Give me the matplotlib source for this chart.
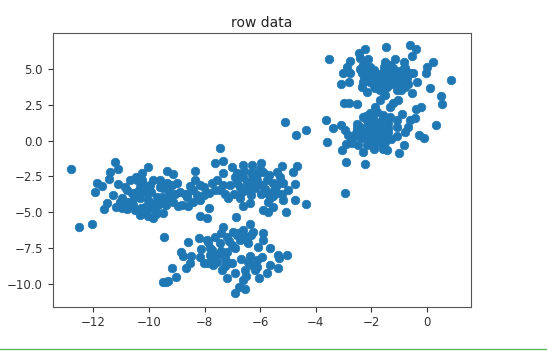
import matplotlib.pyplot as plt
from matplotlib.lines import Line2D

# one pair of lists per blob
top_x = [-3.54,-2.23,-2.43,-1.47,-0.61,-0.40,-0.53,0.23,0.01,-0.05,0.86,0.10,-0.35,-0.53,0.50,0.55,
         -2.77,-2.87,-3.03,-2.77,-2.82,-3.11,-2.41,-2.11,-2.29,-2.05,-2.35,-2.31,-2.35,-2.17,-1.93,-1.81,-1.69,
         -1.51,-1.15,-0.83,-0.79,-0.49,-1.51,-1.27,-1.03,-1.45,-1.15,-0.73,-0.79,-1.09,-1.63,-2.05,-1.75,-1.33,
         -0.97,-1.45,-1.87,-1.57,-0.91,-0.61,-2.17,-2.25,-1.75,-1.33,-1.03,
         -1.03,-1.21,-1.35,-1.51,-1.69,-1.87,-2.99,-2.82,-2.51,-0.22,-0.41,
         -1.62,-1.38,-1.12,-0.88,-1.55,-1.22,-0.68,-1.92,-2.22,-1.72,-1.02,-1.28,-1.92,-1.58,-0.95,-2.42]
top_y = [5.69,6.36,6.13,6.55,6.64,6.36,5.92,5.50,5.15,4.73,4.20,3.66,4.10,3.34,3.08,2.52,
         5.57,5.15,4.73,4.69,4.10,3.92,5.73,5.66,5.27,5.15,4.69,4.10,3.76,3.41,4.45,3.99,3.52,
         5.50,5.66,5.50,5.03,4.73,4.92,4.92,4.69,4.45,4.34,4.34,3.76,3.52,4.34,4.10,4.57,5.27,
         4.22,3.76,3.64,4.10,4.92,4.69,4.80,4.34,3.99,4.10,3.76,
         2.83,2.64,2.36,3.17,2.83,2.31,2.62,2.62,2.52,2.36,2.22,
         4.72,4.62,4.85,4.48,5.15,5.08,3.95,4.95,4.52,3.62,4.12,3.92,3.82,3.38,3.52,5.02]

mid_x = [-3.63,-3.37,-3.59,-3.05,-2.91,-2.24,-2.95,-1.02,-0.84,0.32,-0.29,-0.12,
         -3.09,-2.95,-2.83,-2.53,-2.29,-2.05,-1.81,-1.57,-1.33,-0.91,-1.09,-1.09,-0.61,-0.43,-0.67,-0.79,-1.09,
         -1.39,-1.51,-1.69,-1.93,-2.17,-2.41,-2.23,-2.05,-1.81,-2.05,-2.29,-2.47,-2.71,-2.91,-2.29,-1.89,-1.57,
         -1.45,-1.81,-1.51,-2.11,-2.41,-1.63,-1.39,-1.93,-2.65,-1.75,
         -2.52,-2.12,-1.72,-1.42,-2.32,-1.95,-1.58,-2.15,-1.82,-1.62,-2.55,-2.18,-1.28,-2.72,-1.95]
mid_y = [1.41,0.90,-0.08,-0.69,-1.48,-1.64,-3.64,-0.85,-0.34,1.06,0.38,0.17,
         1.08,0.73,0.38,0.85,1.66,1.90,2.01,1.78,1.66,1.83,1.43,0.97,1.43,1.55,0.97,0.62,0.31,
         0.62,0.27,0.97,1.20,1.43,0.97,0.62,0.85,0.50,0.27,0.15,-0.31,-0.20,-0.24,-0.78,-0.62,-0.62,
         -0.66,-0.08,-0.08,-0.08,0.27,1.43,1.20,1.55,0.27,0.15,
         1.18,1.12,1.22,0.85,0.42,0.65,0.42,-0.32,0.18,-0.32,0.55,1.72,0.08,0.05,-0.38]

stray_x = [-5.11,-4.71,-4.35]
stray_y = [1.31,0.36,0.71]

left_x = [-12.79,-12.52,-12.04,-11.22,-11.40,-11.13,-10.05,-8.35,-9.34,-9.15,-11.85,-11.94,-11.67,-11.43,-11.62,-11.52,
          -11.19,-11.29,-11.10,-10.86,-10.68,-10.44,-10.26,-10.32,-10.98,-10.74,-10.80,-10.56,-10.32,-10.08,-9.84,-9.60,
          -9.36,-9.00,-8.88,-10.32,-10.02,-9.87,-9.48,-9.96,-9.72,-10.14,-9.84,-9.48,-9.24,-9.12,-8.82,-8.58,-8.40,-8.17,
          -8.35,-8.17,-7.84,-7.84,-8.17,-7.93,-9.48,-9.96,-10.62,-10.50,-10.98,-9.66,-9.36,-8.64,-8.28,-9.18,-10.26,
          -10.42,-10.18,-9.92,-9.62,-10.62,-10.28,-10.02,-9.72,-9.38,-9.08,-8.72,-8.42,-8.02,-7.62,-10.78,-10.55,-10.48,
          -9.78,-9.52,-9.28,-8.95,-8.62,-8.52,-8.02,-7.72,-10.12,-9.75,-10.88,-10.22,-9.58,-11.05]
left_y = [-1.99,-6.01,-5.85,-1.48,-2.17,-1.99,-1.83,-2.10,-2.10,-2.34,-2.94,-3.57,-3.15,-2.69,-4.78,-4.34,
          -4.62,-3.80,-3.00,-3.22,-2.76,-2.76,-2.29,-3.22,-4.03,-4.27,-4.80,-4.50,-4.03,-3.69,-2.76,-2.76,
          -2.99,-2.94,-3.57,-5.20,-5.27,-5.38,-5.03,-4.39,-3.92,-4.62,-4.73,-4.27,-3.80,-4.27,-4.50,-4.57,-3.45,-4.15,
          -2.76,-3.10,-3.64,-4.69,-5.24,-5.43,-3.34,-3.10,-3.69,-4.85,-4.73,-4.50,-4.03,-3.92,-3.80,-3.10,-2.76,
          -3.58,-3.52,-3.62,-3.22,-4.28,-4.72,-4.12,-4.32,-4.52,-3.72,-3.72,-4.28,-3.22,-3.42,-3.48,-3.88,-2.58,
          -4.88,-3.95,-3.62,-4.55,-3.72,-3.18,-3.82,-2.98,-4.88,-5.12,-4.42,-3.02,-3.05,-4.32]

right_x = [-7.45,-7.35,-7.63,-7.57,-7.33,-7.03,-6.61,-6.31,-5.98,-5.89,-5.41,-5.23,-4.81,-4.69,-4.75,-4.75,-4.35,-5.07,
           -5.71,-5.89,-5.53,-5.17,-4.99,-5.17,-5.53,-5.77,-5.95,-6.25,-6.61,-6.85,-7.09,-7.33,-7.15,-6.73,-6.63,-6.37,
           -6.49,-6.19,-6.85,-6.49,-5.77,-5.41,-5.65,-7.45,-5.29,-6.07,-6.31,
           -6.72,-6.42,-6.12,-5.82,-5.52,-6.58,-6.28,-5.98,-5.68,-5.38,-6.95,-6.65,-6.02,-5.55,-5.22,-6.32,-7.28,-6.92,-5.72]
right_y = [-0.52,-1.41,-1.59,-2.76,-2.29,-1.83,-1.71,-1.71,-1.55,-2.17,-2.17,-1.78,-2.17,-1.78,-3.03,-4.15,-4.43,-4.97,
           -4.97,-4.85,-4.62,-4.15,-3.45,-2.99,-2.99,-3.69,-3.10,-2.76,-2.52,-2.29,-3.10,-3.10,-4.03,-4.03,-4.57,-4.34,
           -3.45,-3.34,-2.99,-2.87,-2.76,-3.69,-4.03,-3.45,-2.52,-2.29,-2.17,
           -3.22,-3.12,-2.72,-3.38,-3.42,-2.12,-2.42,-3.72,-2.42,-3.12,-3.72,-3.62,-2.02,-3.85,-3.75,-3.82,-3.72,-2.52,-4.32]

low_x = [-9.46,-6.87,-6.37,-7.35,-6.97,-6.61,-6.25,-5.89,-5.89,-6.07,-5.65,-5.37,-5.03,-5.31,-5.35,-5.65,-5.77,-6.05,
         -5.95,-6.37,-6.70,-6.30,-6.54,-6.91,-7.20,-6.61,-6.75,-6.54,-6.89,-7.39,-7.69,-8.02,-8.17,-8.47,-8.83,-8.77,
         -8.53,-8.67,-8.61,-8.20,-7.87,-8.11,-7.81,-7.57,-7.27,-7.03,-7.45,-7.21,-6.91,-6.43,-6.55,-6.85,-7.57,-7.21,
         -7.81,-6.13,-6.43,-9.18,-9.03,-9.30,-9.48,-9.39,
         -7.62,-7.42,-7.12,-6.72,-6.32,-7.92,-7.42,-7.62,-7.22,-6.78,-6.48,-7.88,-7.02,-6.18,-6.52,-7.72,-7.28,-6.12]
low_y = [-6.71,-5.31,-5.85,-6.01,-6.36,-6.24,-6.36,-6.43,-6.94,-7.41,-7.52,-7.99,-8.01,-8.22,-8.87,-8.69,-9.22,-9.62,
         -8.10,-8.06,-8.29,-8.69,-9.04,-9.22,-9.62,-9.73,-10.20,-10.38,-10.64,-9.04,-8.69,-8.57,-8.10,-8.06,-7.76,-8.06,
         -8.57,-8.92,-7.06,-6.78,-7.06,-7.59,-7.52,-7.99,-8.22,-8.57,-7.18,-6.71,-7.52,-7.18,-6.71,-6.59,-8.45,-7.76,
         -7.99,-8.80,-8.45,-8.87,-9.50,-9.78,-9.87,-9.85,
         -6.72,-6.42,-6.98,-6.92,-6.62,-6.92,-7.72,-8.28,-8.42,-6.42,-7.02,-8.52,-7.32,-9.02,-9.42,-7.62,-8.72,-8.32]

x = top_x + mid_x + stray_x + left_x + right_x + low_x
y = top_y + mid_y + stray_y + left_y + right_y + low_y

fig = plt.figure(figsize=(5.47, 3.52), dpi=100)
ax = fig.add_axes([52.7/547, 1-306.5/352, (471-52.7)/547, (306.5-33.3)/352])
ax.scatter(x, y, s=38, color="#1f77b4", linewidths=0.5)
ax.set_xlim(-13.46, 1.58)
ax.set_ylim(-11.58, 7.48)
ax.set_xticks([-12, -10, -8, -6, -4, -2, 0])
ax.set_yticks([-10, -7.5, -5, -2.5, 0, 2.5, 5])
ax.tick_params(labelsize=8.5, colors="#333333", length=3.5, width=0.8)
for s in ax.spines.values():
    s.set_color("#555555")
ax.set_title("row data", fontsize=10, pad=4.5, color="#222222")

# thin green rule along the bottom of the screenshot
fig.add_artist(Line2D([0, 1], [3/352, 3/352], color="#5cb85c", lw=1))

fig.savefig("out.png", dpi=100)
